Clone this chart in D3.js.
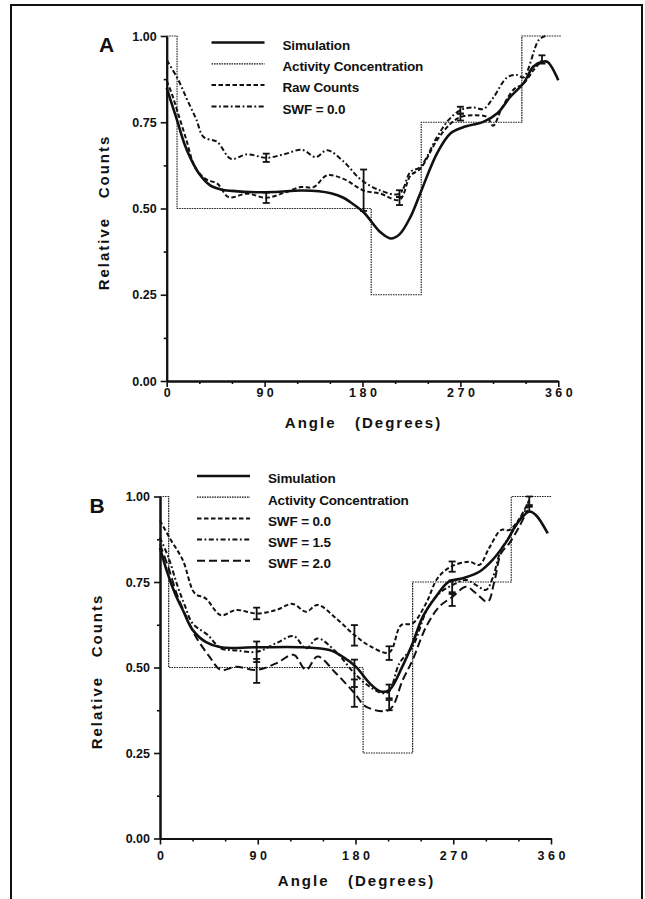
<!DOCTYPE html>
<html>
<head>
<meta charset="utf-8">
<script src="https://cdn.jsdelivr.net/npm/d3@7"></script>
<style>
  body { margin: 0; background: #fff; }
  text { font-family: "Liberation Sans", Arial, sans-serif; font-weight: bold; fill: #111; }
</style>
</head>
<body>
<svg id="fig" width="645" height="899"></svg>
<script>
// ---------------------------------------------------------------------------
// DATA
// ---------------------------------------------------------------------------
var angleTicks = [0, 90, 180, 270, 360]
var angleMinor = [30, 60, 120, 150, 210, 240, 300, 330]
var countTicks = [0, 0.25, 0.5, 0.75, 1]
var countMinor = [0.125, 0.375, 0.625, 0.875]

// Panel A
var stepEdgesA = [0, 9.5, 188, 234, 326.5, 363]
var stepLevelsA = [1, 0.5, 0.25, 0.75, 1]
var simA = [[0,0.85],[4,0.81],[9.5,0.756],[16,0.69],[22,0.645],[30,0.60],[40,0.567],[50,0.555],[60,0.551],[83,0.547],[100,0.548],[123,0.552],[140,0.55],[151,0.544],[162,0.532],[169,0.518],[181,0.489],[196.5,0.431],[206,0.413],[214,0.425],[224,0.475],[233,0.543],[248.5,0.66],[261,0.718],[273,0.736],[291,0.751],[304,0.776],[316,0.824],[328,0.863],[337,0.911],[345,0.925],[350,0.925],[360,0.872]]
var rawA = [[0,0.87],[5,0.83],[10,0.78],[18,0.70],[26,0.62],[36,0.585],[46.5,0.572],[57,0.533],[74,0.543],[91.5,0.531],[107.5,0.545],[123,0.562],[135,0.562],[147.5,0.596],[162.5,0.586],[181,0.552],[196.5,0.543],[214,0.525],[224,0.595],[233,0.615],[248.5,0.698],[261,0.746],[270,0.765],[282,0.77],[294.5,0.765],[300,0.74],[308,0.79],[319,0.845],[328,0.862],[337,0.90],[345,0.93]]
var swf0A = [[0,0.93],[10,0.877],[19,0.814],[27,0.76],[34,0.707],[46.5,0.693],[59,0.644],[74,0.657],[91.5,0.647],[107.7,0.657],[124.6,0.67],[137,0.649],[147.5,0.669],[163,0.635],[178,0.585],[196.5,0.552],[214,0.543],[224,0.606],[233,0.62],[248.5,0.707],[259,0.756],[270,0.785],[282,0.793],[291,0.788],[300,0.82],[313,0.88],[322,0.887],[328,0.88],[342,0.988],[348,1.0]]
// error bars: [angle, centre, half height]
var errA = [[91.5,0.647,0.012],[91.5,0.531,0.015],[181,0.553,0.06],[214,0.543,0.01],[214,0.522,0.012],[270,0.785,0.01],[270,0.765,0.01],[345,0.932,0.012]]
var legendA = ["Simulation", "Activity Concentration", "Raw Counts", "SWF = 0.0"]

// Panel B
var stepEdgesB = [0, 8, 187, 232.6, 323.4, 360.5]
var stepLevelsB = [1, 0.5, 0.25, 0.75, 1]
var simB = [[0,0.85],[7,0.775],[14,0.715],[21,0.668],[30,0.61],[42,0.575],[56,0.559],[88,0.559],[131,0.559],[156,0.551],[168,0.532],[180.5,0.502],[193,0.454],[203,0.43],[211,0.434],[223,0.502],[232.6,0.571],[242,0.649],[254,0.707],[266,0.751],[279,0.761],[294,0.78],[306,0.814],[319,0.868],[329,0.922],[340,0.956],[346,0.946],[357,0.892]]
var swf0B = [[0,0.93],[9,0.878],[21,0.814],[32,0.717],[42,0.702],[56,0.653],[70,0.668],[89,0.658],[107,0.668],[122,0.686],[134.5,0.663],[145,0.683],[162,0.644],[179,0.595],[193,0.563],[211,0.544],[222,0.624],[232.6,0.629],[245,0.688],[255.6,0.761],[268,0.795],[285,0.809],[294,0.80],[303,0.849],[314,0.902],[321.6,0.902],[329,0.926],[337,0.97],[340,0.99]]
var swf15B = [[0,0.88],[8,0.82],[16,0.74],[23,0.68],[30,0.629],[44,0.595],[56,0.556],[70,0.55],[89,0.546],[107,0.571],[123,0.592],[134.5,0.556],[145,0.585],[162,0.546],[179,0.483],[193,0.444],[205,0.425],[211,0.43],[220.4,0.512],[232.6,0.561],[246.4,0.673],[257.2,0.717],[269.4,0.741],[281.8,0.756],[291,0.741],[300.2,0.727],[306.2,0.761],[314,0.844],[321.6,0.882],[330.8,0.931],[338.5,0.97]]
var swf20B = [[0,0.86],[8,0.79],[16,0.71],[24,0.65],[33,0.59],[45.5,0.532],[56,0.493],[70,0.502],[89,0.493],[107,0.512],[123,0.537],[134.5,0.493],[145,0.532],[162,0.483],[179,0.425],[190,0.385],[211,0.376],[223.4,0.463],[232.6,0.522],[245,0.619],[257.2,0.678],[269.4,0.707],[281.8,0.736],[291,0.717],[301.6,0.692],[307.8,0.751],[314,0.834],[321.6,0.863],[330.8,0.912],[338.5,0.961]]
var errB = [[89,0.658,0.017],[89,0.546,0.03],[89,0.49,0.035],[179,0.594,0.03],[179,0.483,0.04],[179,0.425,0.04],[211,0.542,0.02],[211,0.43,0.02],[211,0.39,0.015],[269,0.795,0.015],[269,0.735,0.02],[269,0.70,0.02],[340,0.985,0.015],[340,0.965,0.01]]
var legendB = ["Simulation", "Activity Concentration", "SWF = 0.0", "SWF = 1.5", "SWF = 2.0"]

// ---------------------------------------------------------------------------
// LINE STYLES
// ---------------------------------------------------------------------------
var styles = {
  solid:    {w: 2.6, dash: null},
  activity: {w: 1.2, dash: "1.6,0.9"},
  short:    {w: 2,   dash: "4.5,2.5"},
  dashdot:  {w: 2,   dash: "5,2.5,1.8,2.5"},
  long:     {w: 2,   dash: "8,4"}
}

var svg = d3.select("#fig")

// outer frame
svg.append("rect").attr("x", 11).attr("y", 5).attr("width", 631).attr("height", 910)
  .attr("fill", "none").attr("stroke", "#111").attr("stroke-width", 2)

function drawPanel(p) {
  var x = d3.scaleLinear().domain([0, 360]).range([p.left, p.right])
  var y = d3.scaleLinear().domain([0, 1]).range([p.bottom, p.top])
  var g = svg.append("g")

  // minor ticks
  g.append("g").attr("transform", "translate(0," + p.bottom + ")")
    .call(d3.axisBottom(x).tickValues(angleMinor).tickSize(3).tickSizeOuter(0).tickFormat(""))
  g.append("g").attr("transform", "translate(" + p.left + ",0)")
    .call(d3.axisLeft(y).tickValues(countMinor).tickSize(3).tickSizeOuter(0).tickFormat(""))

  var gx = g.append("g").attr("transform", "translate(0," + p.bottom + ")")
    .call(d3.axisBottom(x).tickValues(angleTicks).tickSize(6).tickSizeOuter(0).tickPadding(p.labelPad).tickFormat(d3.format("d")))
  gx.selectAll("text").attr("font-size", 12.5).attr("letter-spacing", 3.5).attr("dx", 1.75)
    .attr("font-family", null)

  var gy = g.append("g").attr("transform", "translate(" + p.left + ",0)")
    .call(d3.axisLeft(y).tickValues(countTicks).tickSize(6).tickSizeOuter(0).tickPadding(4).tickFormat(d3.format(".2f")))
  gy.selectAll("text").attr("font-size", 12.5).attr("font-family", null)

  g.selectAll(".domain").attr("stroke", "#111").attr("stroke-width", 2)
  g.selectAll(".tick line").attr("stroke", "#111").attr("stroke-width", 1.6)

  // axis titles
  g.append("text").attr("x", (p.left + p.right) / 2 + 1).attr("y", p.bottom + 47)
    .attr("text-anchor", "middle").attr("font-size", 15).attr("letter-spacing", 2)
    .attr("xml:space", "preserve").text("Angle   (Degrees)")
  g.append("text")
    .attr("transform", "translate(" + (p.left - 58) + "," + ((p.top + p.bottom) / 2 + 4) + ") rotate(-90)")
    .attr("text-anchor", "middle").attr("font-size", 15).attr("letter-spacing", 2)
    .attr("xml:space", "preserve").text("Relative   Counts")

  // panel letter
  g.append("text").attr("x", p.letterX).attr("y", p.letterY).attr("font-size", 21)
    .attr("text-anchor", "middle").text(p.letter)

  var line = d3.line().x(d => x(d[0])).y(d => y(d[1])).curve(d3.curveCatmullRom.alpha(0.5))

  // activity concentration steps
  var stepPts = p.edges.slice(0, -1).map((e, i) => [e, p.levels[i]])
  stepPts.push([p.edges[p.edges.length - 1], p.levels[p.levels.length - 1]])
  g.append("path").datum(stepPts)
    .attr("d", d3.line().x(d => x(d[0])).y(d => y(d[1])).curve(d3.curveStepAfter))
    .attr("fill", "none").attr("stroke", "#222")
    .attr("stroke-width", styles.activity.w).attr("stroke-dasharray", styles.activity.dash)

  // curves
  g.selectAll("path.curve").data(p.series).enter().append("path")
    .attr("class", "curve")
    .attr("d", d => line(d.values))
    .attr("fill", "none").attr("stroke", "#111")
    .attr("stroke-width", d => styles[d.style].w)
    .attr("stroke-dasharray", d => styles[d.style].dash)
    .attr("stroke-linejoin", "round")

  // error bars
  var eb = g.selectAll("g.err").data(p.errors).enter().append("g").attr("class", "err")
  eb.append("line").attr("x1", d => x(d[0])).attr("x2", d => x(d[0]))
    .attr("y1", d => y(d[1] + d[2])).attr("y2", d => y(d[1] - d[2]))
  eb.append("line").attr("x1", d => x(d[0]) - 3.5).attr("x2", d => x(d[0]) + 3.5)
    .attr("y1", d => y(d[1] + d[2])).attr("y2", d => y(d[1] + d[2]))
  eb.append("line").attr("x1", d => x(d[0]) - 3.5).attr("x2", d => x(d[0]) + 3.5)
    .attr("y1", d => y(d[1] - d[2])).attr("y2", d => y(d[1] - d[2]))
  eb.selectAll("line").attr("stroke", "#111").attr("stroke-width", 1.8)

  // legend
  var lg = g.selectAll("g.leg").data(p.legend).enter().append("g").attr("class", "leg")
    .attr("transform", (d, i) => "translate(0," + (p.legY + i * p.legStep) + ")")
  lg.append("line").attr("x1", p.legX).attr("x2", p.legX + 53).attr("y1", 0).attr("y2", 0)
    .attr("stroke", "#111")
    .attr("stroke-width", (d, i) => styles[p.legendStyles[i]].w)
    .attr("stroke-dasharray", (d, i) => styles[p.legendStyles[i]].dash)
  lg.append("text").attr("x", p.legX + 71).attr("y", 3).attr("dy", "0.32em")
    .attr("font-size", 13.5).attr("letter-spacing", -0.15).text(d => d)
}

drawPanel({
  left: 166.7, right: 558.3, top: 36, bottom: 381, labelPad: 1,
  letter: "A", letterX: 106.5, letterY: 51.5,
  edges: stepEdgesA, levels: stepLevelsA,
  series: [
    {values: simA, style: "solid"},
    {values: rawA, style: "short"},
    {values: swf0A, style: "dashdot"}
  ],
  errors: errA,
  legend: legendA, legendStyles: ["solid", "activity", "short", "dashdot"],
  legX: 211.5, legY: 42.5, legStep: 21.3
})

drawPanel({
  left: 160, right: 551, top: 496.5, bottom: 838.5, labelPad: 7,
  letter: "B", letterX: 97, letterY: 513,
  edges: stepEdgesB, levels: stepLevelsB,
  series: [
    {values: simB, style: "solid"},
    {values: swf0B, style: "short"},
    {values: swf15B, style: "dashdot"},
    {values: swf20B, style: "long"}
  ],
  errors: errB,
  legend: legendB, legendStyles: ["solid", "activity", "short", "dashdot", "long"],
  legX: 197, legY: 476, legStep: 21.2
})
</script>
</body>
</html>
